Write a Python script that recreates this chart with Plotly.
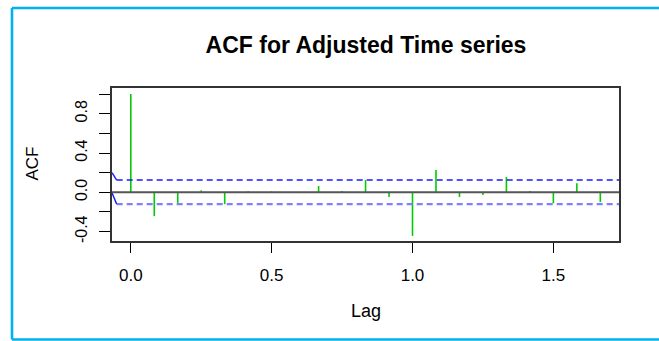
import plotly.graph_objects as go

# ---- data ----
lags = [k / 12 for k in range(21)]
acf_values = [1.0, -0.242, -0.13, 0.02, -0.12, 0.01, 0.01, 0.004, 0.064, 0.013,
              0.125, -0.048, -0.443, 0.228, -0.048, -0.028, 0.156, 0.013, -0.112,
              0.092, -0.099]
ci_upper = 0.125
ci_lower = -0.12
ci_kink_x = [-0.0667, -0.05]
ci_upper_kink_y = [0.2, ci_upper]
ci_lower_kink_y = [-0.005, ci_lower]
x_range = [-0.0667, 1.733]
y_range = [-0.495, 1.061]
x_tickvals = [0, 0.5, 1.0, 1.5]
x_ticktext = ["0.0", "0.5", "1.0", "1.5"]
y_tickvals = [-0.4, -0.2, 0.0, 0.2, 0.4, 0.6, 0.8, 1.0]
y_ticktext = ["-0.4", "", "0.0", "", "0.4", "", "0.8", ""]

FONT = "Liberation Sans, Arial, sans-serif"

# plot area geometry (page pixels)
L, R, T, B = 112, 619, 88, 241
PW, PH = R - L, B - T


def px(x):
    return (x - L) / PW


def py(y):
    return (B - y) / PH


# vertical spikes built from data
sx, sy = [], []
for lag, v in zip(lags, acf_values):
    sx += [lag, lag, None]
    sy += [0, v, None]

fig = go.Figure()
fig.add_trace(go.Scatter(x=sx, y=sy, mode="lines",
                         line=dict(color="#00CC00", width=1.6),
                         hoverinfo="skip", showlegend=False))
# confidence lines
fig.add_trace(go.Scatter(x=[ci_kink_x[1], x_range[1]], y=[ci_upper, ci_upper], mode="lines",
                         line=dict(color="#1a1aff", width=1.6, dash="6px,4px"),
                         showlegend=False))
fig.add_trace(go.Scatter(x=[ci_kink_x[1], x_range[1]], y=[ci_lower, ci_lower], mode="lines",
                         line=dict(color="#8080ff", width=2.4, dash="6px,4px"),
                         showlegend=False))
fig.add_trace(go.Scatter(x=ci_kink_x, y=ci_upper_kink_y, mode="lines",
                         line=dict(color="#1a1aff", width=1.4), showlegend=False))
fig.add_trace(go.Scatter(x=ci_kink_x, y=ci_lower_kink_y, mode="lines",
                         line=dict(color="#1a1aff", width=1.4), showlegend=False))

# zero line
fig.add_shape(type="line", xref="x domain", yref="y", x0=0, x1=1, y0=0, y1=0,
              line=dict(color="#555555", width=2))

# outer light-blue frame: left, top, bottom edges (right edge lies off-canvas)
frame = dict(color="#00B0F0", width=2.6)
fig.add_shape(type="line", xref="paper", yref="paper", x0=px(12), x1=px(12),
              y0=py(339.5), y1=py(8), line=frame, layer="above")
fig.add_shape(type="line", xref="paper", yref="paper", x0=px(12), x1=px(720),
              y0=py(8), y1=py(8), line=frame, layer="above")
fig.add_shape(type="line", xref="paper", yref="paper", x0=px(12), x1=px(720),
              y0=py(339.5), y1=py(339.5), line=frame, layer="above")

fig.update_layout(
    width=659, height=341,
    margin=dict(l=L, r=659 - R, t=T, b=341 - B),
    paper_bgcolor="white", plot_bgcolor="white",
    font=dict(family=FONT, color="black"),
    title=dict(text="<b>ACF for Adjusted Time series</b>", x=366 / 659, xanchor="center",
               y=1 - 44.7 / 341, yanchor="middle",
               font=dict(family=FONT, size=23, color="black")),
    showlegend=False,
)
fig.update_xaxes(range=x_range, tickvals=x_tickvals, ticktext=x_ticktext,
                 ticks="outside", ticklen=10, tickwidth=1.3, tickcolor="black",
                 showgrid=False, zeroline=False, showline=True, mirror=True,
                 linecolor="#333333", linewidth=1.5,
                 tickfont=dict(size=17, family=FONT), ticklabelstandoff=8)
fig.update_yaxes(range=y_range, tickvals=y_tickvals, ticktext=y_ticktext,
                 ticks="outside", ticklen=11, tickwidth=1.3, tickcolor="black",
                 showgrid=False, zeroline=False, showline=True, mirror=True,
                 linecolor="#333333", linewidth=1.5, tickangle=-90,
                 tickfont=dict(size=16, family=FONT), ticklabelstandoff=6)

fig.add_annotation(text="ACF", xref="paper", yref="paper", x=px(31.5), y=py(164),
                   showarrow=False, textangle=-90,
                   xanchor="center", yanchor="middle", font=dict(size=17, family=FONT))
fig.add_annotation(text="Lag", xref="paper", yref="paper", x=px(366), y=py(311),
                   showarrow=False,
                   xanchor="center", yanchor="middle", font=dict(size=18, family=FONT))

fig.write_html(
    "out.html",
    config={"displayModeBar": False},
    post_script="document.body.style.margin='0';"
                "document.documentElement.style.overflow='hidden';",
)
